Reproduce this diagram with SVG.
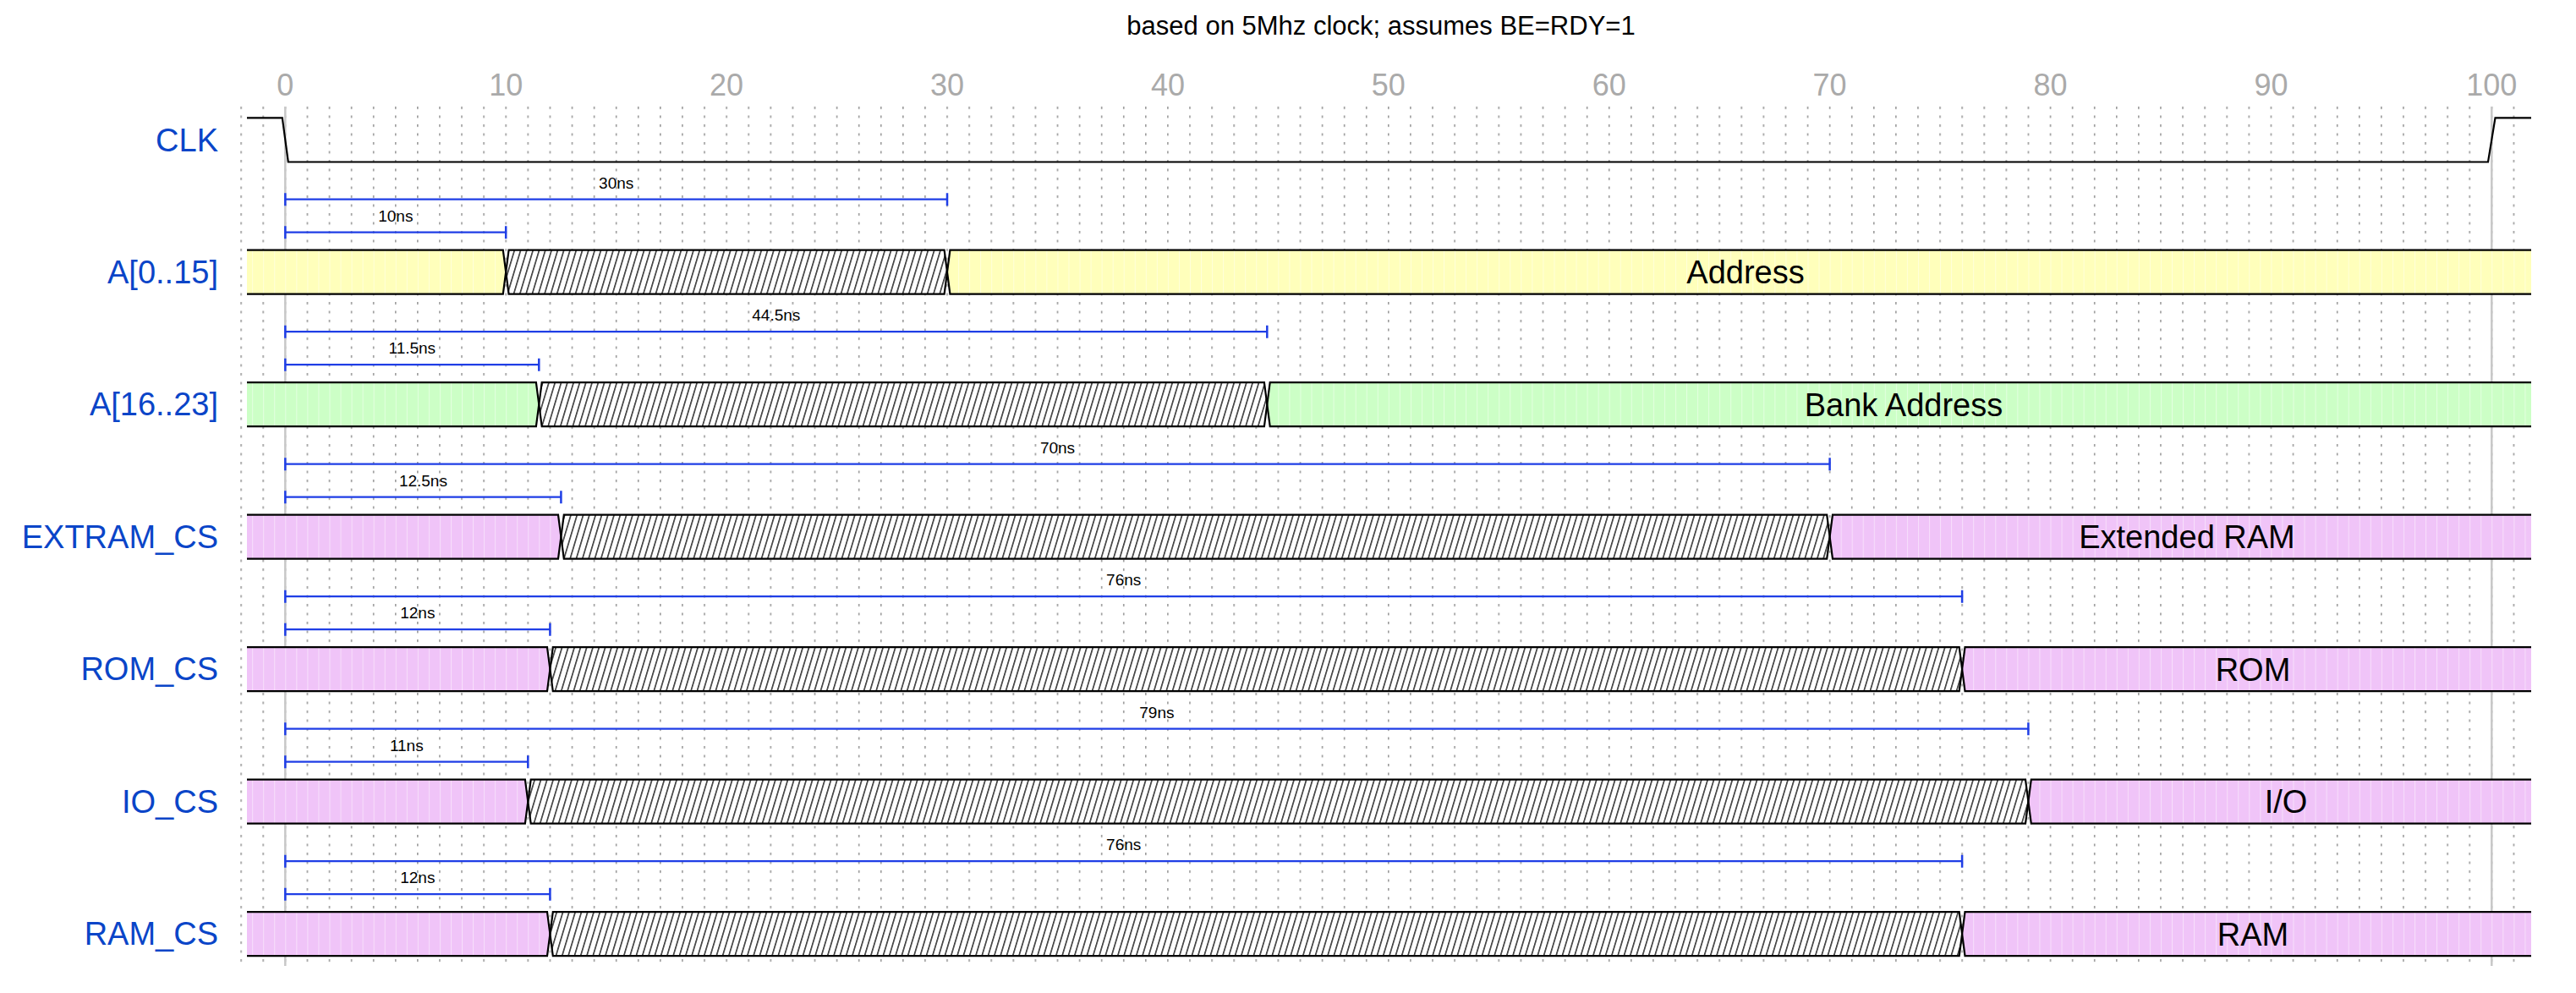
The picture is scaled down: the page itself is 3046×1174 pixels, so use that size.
<svg xmlns="http://www.w3.org/2000/svg" width="3046" height="1174" viewBox="0 0 3046 1174">
<style>
.title{font-family:"Liberation Sans",Arial,sans-serif;font-size:31px;fill:#000;text-anchor:middle}
.axis{font-family:"Liberation Sans",Arial,sans-serif;font-size:36px;fill:#aaaaaa;text-anchor:middle}
.sig{font-family:"Liberation Sans",Arial,sans-serif;font-size:38px;fill:#0a45c8;text-anchor:end}
.data{font-family:"Liberation Sans",Arial,sans-serif;font-size:38px;fill:#000;text-anchor:middle}
.mlab{font-family:"Liberation Sans",Arial,sans-serif;font-size:19px;fill:#000;text-anchor:middle}
.mline{stroke:#1f3ee6;stroke-width:2.2;fill:none}
.mtick{stroke:#1f3ee6;stroke-width:2.5;fill:none}
.edge{stroke:#000;stroke-width:2.2;fill:none;stroke-linejoin:miter}
.ref{stroke:#c8c8c8;stroke-width:2.5}
.wave{stroke:#000;stroke-width:2.2;fill:none}
</style>
<defs>
<pattern id="grid" patternUnits="userSpaceOnUse" x="284.32" y="126" width="26.09" height="10.5">
<rect x="0" y="0" width="1.6" height="3" fill="#9a9a9a"/>
</pattern>
<pattern id="hatch" patternUnits="userSpaceOnUse" width="7.3" height="10" patternTransform="skewX(-16.7)">
<rect width="7.3" height="10" fill="#fff"/>
<line x1="3.6" y1="-1" x2="3.6" y2="11" stroke="#000" stroke-width="1.3"/>
</pattern>
<pattern id="fy" patternUnits="userSpaceOnUse" x="337.3" y="0" width="13.045" height="20">
<rect width="13.045" height="20" fill="#ffffbb"/>
<rect width="1" height="20" fill="#fff" opacity="0.45"/>
</pattern>
<pattern id="fg" patternUnits="userSpaceOnUse" x="337.3" y="0" width="13.045" height="20">
<rect width="13.045" height="20" fill="#ccffc6"/>
<rect width="1" height="20" fill="#fff" opacity="0.45"/>
</pattern>
<pattern id="fp" patternUnits="userSpaceOnUse" x="337.3" y="0" width="13.045" height="20">
<rect width="13.045" height="20" fill="#f0c4f8"/>
<rect width="1" height="20" fill="#fff" opacity="0.45"/>
</pattern>
</defs>
<rect width="3046" height="1174" fill="#fff"/>

<text class="title" x="1633" y="40.5">based on 5Mhz clock; assumes BE=RDY=1</text>

<g id="axis">
<text class="axis" x="337.3" y="113">0</text>
<text class="axis" x="598.2" y="113">10</text>
<text class="axis" x="859.1" y="113">20</text>
<text class="axis" x="1120" y="113">30</text>
<text class="axis" x="1380.9" y="113">40</text>
<text class="axis" x="1641.8" y="113">50</text>
<text class="axis" x="1902.7" y="113">60</text>
<text class="axis" x="2163.6" y="113">70</text>
<text class="axis" x="2424.5" y="113">80</text>
<text class="axis" x="2685.4" y="113">90</text>
<text class="axis" x="2946.3" y="113">100</text>
</g>

<g id="grid-lines">
<rect x="284" y="126" width="2692" height="1016" fill="url(#grid)"/>
<line class="ref" x1="337.3" y1="126" x2="337.3" y2="1142"/>
<line class="ref" x1="2946.3" y1="126" x2="2946.3" y2="1142"/>
</g>

<g id="sig-CLK">
<text class="sig" x="258" y="179">CLK</text>
<path class="wave" d="M292 139.3 H333.8 L340.8 191.5 H2942 L2950.5 139.3 H2993"/>
</g>

<g id="sig-A0_15">
<text class="sig" x="258" y="334.7">A[0..15]</text>
<polygon fill="url(#fy)" points="292,295.7 594.8,295.7 598.2,321.7 594.8,347.7 292,347.7"/>
<polygon fill="url(#hatch)" points="601.6,295.7 1116.6,295.7 1120,321.7 1116.6,347.7 601.6,347.7 598.2,321.7"/>
<polygon fill="url(#fy)" points="1123.4,295.7 2993,295.7 2993,347.7 1123.4,347.7 1120,321.7"/>
<path class="edge" d="M292 295.7 H594.8 L598.2 321.7 L594.8 347.7 H292"/>
<path class="edge" d="M601.6 295.7 H1116.6 L1120 321.7 L1116.6 347.7 H601.6 L598.2 321.7 Z"/>
<path class="edge" d="M2993 295.7 H1123.4 L1120 321.7 L1123.4 347.7 H2993"/>
<text class="data" x="2064" y="335">Address</text>
</g>

<g id="sig-A16_23">
<text class="sig" x="258" y="491.2">A[16..23]</text>
<polygon fill="url(#fg)" points="292,452.2 633.9,452.2 637.3,478.2 633.9,504.2 292,504.2"/>
<polygon fill="url(#hatch)" points="640.7,452.2 1494.9,452.2 1498.3,478.2 1494.9,504.2 640.7,504.2 637.3,478.2"/>
<polygon fill="url(#fg)" points="1501.7,452.2 2993,452.2 2993,504.2 1501.7,504.2 1498.3,478.2"/>
<path class="edge" d="M292 452.2 H633.9 L637.3 478.2 L633.9 504.2 H292"/>
<path class="edge" d="M640.7 452.2 H1494.9 L1498.3 478.2 L1494.9 504.2 H640.7 L637.3 478.2 Z"/>
<path class="edge" d="M2993 452.2 H1501.7 L1498.3 478.2 L1501.7 504.2 H2993"/>
<text class="data" x="2251" y="491.5">Bank Address</text>
</g>

<g id="sig-EXTRAM_CS">
<text class="sig" x="258" y="647.7">EXTRAM_CS</text>
<polygon fill="url(#fp)" points="292,608.7 660,608.7 663.4,634.7 660,660.7 292,660.7"/>
<polygon fill="url(#hatch)" points="666.8,608.7 2160.2,608.7 2163.6,634.7 2160.2,660.7 666.8,660.7 663.4,634.7"/>
<polygon fill="url(#fp)" points="2167,608.7 2993,608.7 2993,660.7 2167,660.7 2163.6,634.7"/>
<path class="edge" d="M292 608.7 H660 L663.4 634.7 L660 660.7 H292"/>
<path class="edge" d="M666.8 608.7 H2160.2 L2163.6 634.7 L2160.2 660.7 H666.8 L663.4 634.7 Z"/>
<path class="edge" d="M2993 608.7 H2167 L2163.6 634.7 L2167 660.7 H2993"/>
<text class="data" x="2586" y="648">Extended RAM</text>
</g>

<g id="sig-ROM_CS">
<text class="sig" x="258" y="804.2">ROM_CS</text>
<polygon fill="url(#fp)" points="292,765.2 647,765.2 650.4,791.2 647,817.2 292,817.2"/>
<polygon fill="url(#hatch)" points="653.8,765.2 2316.7,765.2 2320.1,791.2 2316.7,817.2 653.8,817.2 650.4,791.2"/>
<polygon fill="url(#fp)" points="2323.5,765.2 2993,765.2 2993,817.2 2323.5,817.2 2320.1,791.2"/>
<path class="edge" d="M292 765.2 H647 L650.4 791.2 L647 817.2 H292"/>
<path class="edge" d="M653.8 765.2 H2316.7 L2320.1 791.2 L2316.7 817.2 H653.8 L650.4 791.2 Z"/>
<path class="edge" d="M2993 765.2 H2323.5 L2320.1 791.2 L2323.5 817.2 H2993"/>
<text class="data" x="2664" y="804.5">ROM</text>
</g>

<g id="sig-IO_CS">
<text class="sig" x="258" y="960.7">IO_CS</text>
<polygon fill="url(#fp)" points="292,921.7 620.9,921.7 624.3,947.7 620.9,973.7 292,973.7"/>
<polygon fill="url(#hatch)" points="627.7,921.7 2395,921.7 2398.4,947.7 2395,973.7 627.7,973.7 624.3,947.7"/>
<polygon fill="url(#fp)" points="2401.8,921.7 2993,921.7 2993,973.7 2401.8,973.7 2398.4,947.7"/>
<path class="edge" d="M292 921.7 H620.9 L624.3 947.7 L620.9 973.7 H292"/>
<path class="edge" d="M627.7 921.7 H2395 L2398.4 947.7 L2395 973.7 H627.7 L624.3 947.7 Z"/>
<path class="edge" d="M2993 921.7 H2401.8 L2398.4 947.7 L2401.8 973.7 H2993"/>
<text class="data" x="2703" y="961">I/O</text>
</g>

<g id="sig-RAM_CS">
<text class="sig" x="258" y="1117.2">RAM_CS</text>
<polygon fill="url(#fp)" points="292,1078.2 647,1078.2 650.4,1104.2 647,1130.2 292,1130.2"/>
<polygon fill="url(#hatch)" points="653.8,1078.2 2316.7,1078.2 2320.1,1104.2 2316.7,1130.2 653.8,1130.2 650.4,1104.2"/>
<polygon fill="url(#fp)" points="2323.5,1078.2 2993,1078.2 2993,1130.2 2323.5,1130.2 2320.1,1104.2"/>
<path class="edge" d="M292 1078.2 H647 L650.4 1104.2 L647 1130.2 H292"/>
<path class="edge" d="M653.8 1078.2 H2316.7 L2320.1 1104.2 L2316.7 1130.2 H653.8 L650.4 1104.2 Z"/>
<path class="edge" d="M2993 1078.2 H2323.5 L2320.1 1104.2 L2323.5 1130.2 H2993"/>
<text class="data" x="2664" y="1117.5">RAM</text>
</g>

<g id="connectors">
<path class="mline" d="M337.3 235.7 H1120"/><path class="mtick" d="M337.3 228.2 V243.2 M1120 228.2 V243.2"/>
<text class="mlab" x="728.7" y="222.7">30ns</text>
<path class="mline" d="M337.3 274.7 H598.2"/><path class="mtick" d="M337.3 267.2 V282.2 M598.2 267.2 V282.2"/>
<text class="mlab" x="467.8" y="261.7">10ns</text>

<path class="mline" d="M337.3 392.2 H1498.3"/><path class="mtick" d="M337.3 384.7 V399.7 M1498.3 384.7 V399.7"/>
<text class="mlab" x="917.8" y="379.2">44.5ns</text>
<path class="mline" d="M337.3 431.2 H637.3"/><path class="mtick" d="M337.3 423.7 V438.7 M637.3 423.7 V438.7"/>
<text class="mlab" x="487.3" y="418.2">11.5ns</text>

<path class="mline" d="M337.3 548.7 H2163.6"/><path class="mtick" d="M337.3 541.2 V556.2 M2163.6 541.2 V556.2"/>
<text class="mlab" x="1250.5" y="535.7">70ns</text>
<path class="mline" d="M337.3 587.7 H663.4"/><path class="mtick" d="M337.3 580.2 V595.2 M663.4 580.2 V595.2"/>
<text class="mlab" x="500.4" y="574.7">12.5ns</text>

<path class="mline" d="M337.3 705.2 H2320.1"/><path class="mtick" d="M337.3 697.7 V712.7 M2320.1 697.7 V712.7"/>
<text class="mlab" x="1328.7" y="692.2">76ns</text>
<path class="mline" d="M337.3 744.2 H650.4"/><path class="mtick" d="M337.3 736.7 V751.7 M650.4 736.7 V751.7"/>
<text class="mlab" x="493.8" y="731.2">12ns</text>

<path class="mline" d="M337.3 861.7 H2398.4"/><path class="mtick" d="M337.3 854.2 V869.2 M2398.4 854.2 V869.2"/>
<text class="mlab" x="1367.9" y="848.7">79ns</text>
<path class="mline" d="M337.3 900.7 H624.3"/><path class="mtick" d="M337.3 893.2 V908.2 M624.3 893.2 V908.2"/>
<text class="mlab" x="480.8" y="887.7">11ns</text>

<path class="mline" d="M337.3 1018.2 H2320.1"/><path class="mtick" d="M337.3 1010.7 V1025.7 M2320.1 1010.7 V1025.7"/>
<text class="mlab" x="1328.7" y="1005.2">76ns</text>
<path class="mline" d="M337.3 1057.2 H650.4"/><path class="mtick" d="M337.3 1049.7 V1064.7 M650.4 1049.7 V1064.7"/>
<text class="mlab" x="493.8" y="1044.2">12ns</text>
</g>
</svg>
